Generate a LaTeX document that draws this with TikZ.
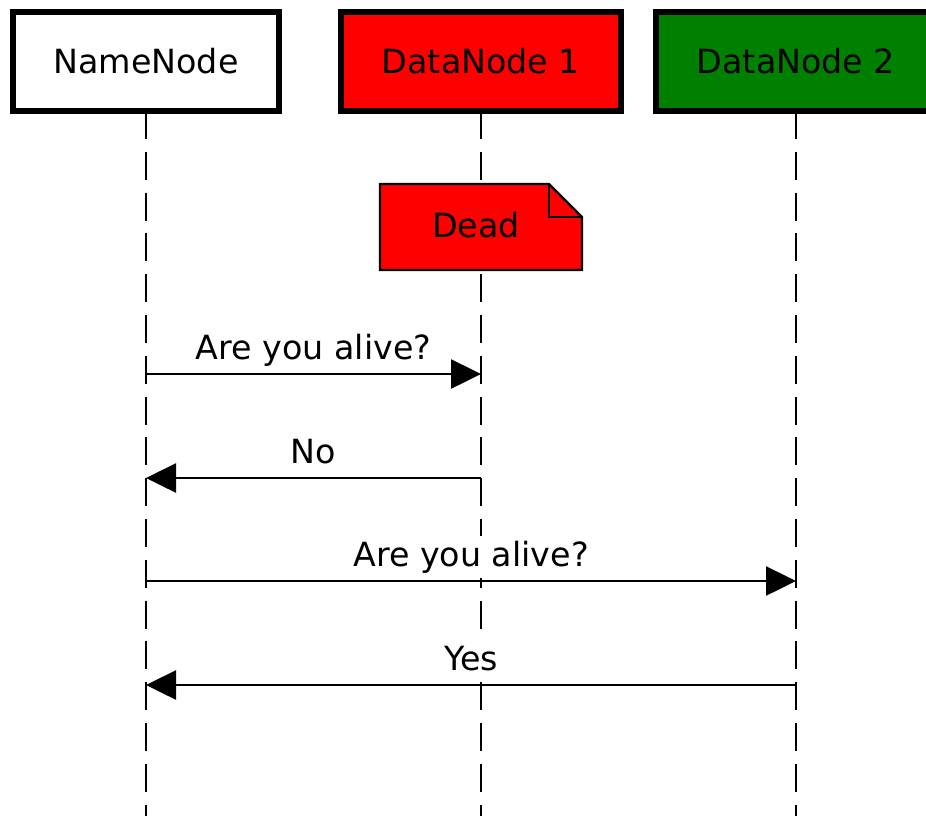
\documentclass[tikz,border=0pt]{standalone}
\usepackage{fontspec}
\setmainfont{DejaVu Sans}
\usetikzlibrary{arrows.meta}
\definecolor{alivegreen}{HTML}{008000}
\begin{document}
\begin{tikzpicture}[x=1pt,y=-1pt,
  labelfont/.style={font=\fontsize{33.3}{40}\selectfont},
  actor/.style={draw=black, line width=6pt, minimum height=99pt, inner sep=0pt, labelfont},
  lifeline/.style={line width=2.8pt, dash pattern=on 28pt off 12.8pt},
  msg/.style={line width=2.5pt, -{Triangle[length=30pt,width=29pt]}},
  msglabel/.style={midway, anchor=base, yshift=15pt, fill=white, inner xsep=4pt,
    inner ysep=5pt, labelfont},
  notebox/.style={fill=red, draw=black, line width=2.4pt, line join=miter}]
\useasboundingbox (0,0) rectangle (926,815);
\fill[white] (0,0) rectangle (926,815);
\clip (0,0) rectangle (926,815);

% bottom edge for the lifelines
\coordinate (bottom) at (0,816);

% lifelines (drawn first so the boxes and the note cover them)
\coordinate (nn-top) at (146,111);
\coordinate (d1-top) at (481,111);
\coordinate (d2-top) at (796,111);
\draw[lifeline] (nn-top) -- (nn-top |- bottom);
\draw[lifeline] (d1-top) -- (d1-top |- bottom);
\draw[lifeline] (d2-top) -- (d2-top |- bottom);

% participants
\node[actor, fill=white, minimum width=266pt] (nn) at (146,61) {NameNode};
\node[actor, fill=red, minimum width=280pt] (d1) at (481,61) {DataNode 1};
\node[actor, fill=alivegreen, minimum width=280pt] (d2) at (796,61) {DataNode 2};

% note on DataNode 1
\draw[notebox] (380,184) -- (549,184) -- (582,217) -- (582,270) -- (380,270) -- cycle;
\draw[line width=2.4pt, line join=miter] (549,184) -- (549,217) -- (582,217);
\node[labelfont] (dead) at (476,225) {Dead};

% message end points on the lifelines
\coordinate (nn-1) at (146,374); \coordinate (d1-1) at (481,374);
\coordinate (nn-2) at (146,478); \coordinate (d1-2) at (481,478);
\coordinate (nn-3) at (146,581); \coordinate (d2-3) at (796,581);
\coordinate (nn-4) at (146,685); \coordinate (d2-4) at (796,685);

% messages
\draw[msg] (nn-1) -- node[msglabel] {Are you alive?} (d1-1);
\draw[msg] (d1-2) -- node[msglabel] {No} (nn-2);
\draw[msg] (nn-3) -- node[msglabel] {Are you alive?} (d2-3);
\draw[msg] (d2-4) -- node[msglabel] {Yes} (nn-4);
\end{tikzpicture}
\end{document}
